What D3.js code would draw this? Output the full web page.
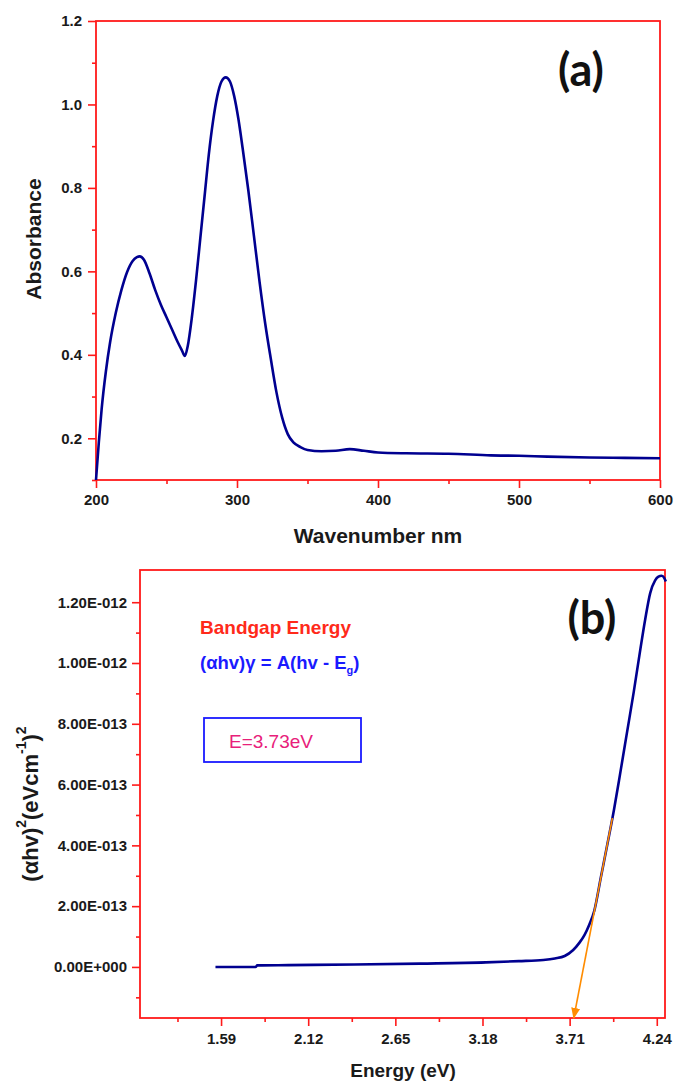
<!DOCTYPE html>
<html><head><meta charset="utf-8">
<script src="https://cdn.jsdelivr.net/npm/d3@7"></script>
<style>
html,body{margin:0;padding:0;background:#fff;}
svg{display:block;}
</style></head>
<body>
<svg id="chart" width="675" height="1083"></svg>
<script>
// ---- Panel (a) data ----
const wavelength = [200,202,204,207,210,214,218,222,226,229,231,234,238,242,246,250,254,258,261,263,265,268,271,274,277,280,283,286,289,292,295,298,301,304,308,312,316,320,324,328,332,336,340,345,350,360,370,380,390,400,420,450,480,500,520,550,575,600];
const absorbance = [0.10,0.19,0.27,0.36,0.43,0.50,0.555,0.598,0.625,0.634,0.636,0.628,0.595,0.555,0.52,0.49,0.46,0.43,0.41,0.397,0.42,0.49,0.58,0.68,0.78,0.88,0.96,1.02,1.055,1.065,1.055,1.02,0.965,0.895,0.795,0.685,0.575,0.475,0.39,0.31,0.25,0.21,0.19,0.179,0.172,0.169,0.17,0.174,0.17,0.166,0.164,0.163,0.159,0.158,0.156,0.154,0.153,0.152];
const aYTicks = [0.2,0.4,0.6,0.8,1.0,1.2];
const aYMinor = [0.1,0.3,0.5,0.7,0.9,1.1];
const aXTicks = [200,300,400,500,600];
const aXMinor = [250,350,450,550];

// ---- Panel (b) data ----
const energy = [1.556,1.80,1.81,2.0,2.4,2.8,3.2,3.4,3.55,3.62,3.68,3.73,3.77,3.80,3.83,3.86,3.90,3.94,3.98,4.02,4.06,4.10,4.14,4.17,4.20,4.23,4.25,4.27,4.285,4.295];
const tauc = [0,0.0,0.05e-13,0.06e-13,0.08e-13,0.11e-13,0.15e-13,0.19e-13,0.23e-13,0.28e-13,0.36e-13,0.55e-13,0.8e-13,1.05e-13,1.4e-13,1.85e-13,2.95e-13,4.05e-13,5.18e-13,6.45e-13,7.75e-13,9.05e-13,10.45e-13,11.45e-13,12.3e-13,12.72e-13,12.84e-13,12.87e-13,12.8e-13,12.68e-13];
const bYTicks = [0,2e-13,4e-13,6e-13,8e-13,10e-13,12e-13];
const bYTickLabels = ["0.00E+000","2.00E-013","4.00E-013","6.00E-013","8.00E-013","1.00E-012","1.20E-012"];
const bYMinor = [-1e-13,1e-13,3e-13,5e-13,7e-13,9e-13,11e-13];
const bXTicks = [1.59,2.12,2.65,3.18,3.71,4.24];
const bXMinor = [1.325,1.855,2.385,2.915,3.445,3.975];
const tangentStart = [3.97, 4.9e-13];
const tangentEnd = [3.735, -1.68e-13];

const svg = d3.select("#chart");
const RED = "#ff1a1a", NAVY = "#000090", LBL = "#1a1a1a";
const FONT = "'Liberation Sans', Arial, sans-serif";

function styleAxis(g){
  g.select(".domain").remove();
  g.selectAll(".tick line").attr("stroke", RED).attr("stroke-width", 1.6);
  g.selectAll(".tick text").attr("fill", LBL).attr("font-family", FONT)
    .attr("font-weight", "bold").attr("font-size", 15);
}

// ===== Panel (a) =====
const ax = d3.scaleLinear().domain([200,600]).range([96,660]);
const ay = d3.scaleLinear().domain([0.1,1.2]).range([480,21]);

svg.append("g").attr("transform","translate(96,0)")
  .call(d3.axisLeft(ay).tickValues(aYTicks).tickSize(8).tickPadding(6).tickFormat(d3.format(".1f")))
  .call(styleAxis);
svg.append("g").attr("transform","translate(96,0)")
  .call(d3.axisLeft(ay).tickValues(aYMinor).tickSize(4).tickFormat(""))
  .call(styleAxis);
svg.append("g").attr("transform","translate(0,480)")
  .call(d3.axisBottom(ax).tickValues(aXTicks).tickSize(8).tickPadding(6).tickFormat(d3.format("d")))
  .call(styleAxis);
svg.append("g").attr("transform","translate(0,480)")
  .call(d3.axisBottom(ax).tickValues(aXMinor).tickSize(4).tickFormat(""))
  .call(styleAxis);

svg.append("rect").attr("x",ax(200)).attr("y",ay(1.2))
  .attr("width",ax(600)-ax(200)).attr("height",ay(0.1)-ay(1.2))
  .attr("fill","none").attr("stroke",RED).attr("stroke-width",1.8);

svg.append("path").datum(wavelength.map((w,i)=>[w,absorbance[i]]))
  .attr("fill","none").attr("stroke",NAVY).attr("stroke-width",2.6)
  .attr("stroke-linejoin","round")
  .attr("d", d3.line().x(d=>ax(d[0])).y(d=>ay(d[1])).curve(d3.curveMonotoneX));

svg.append("text").attr("x",33).attr("y",239).attr("transform","rotate(-90,33,239)")
  .attr("text-anchor","middle").attr("dominant-baseline","central")
  .attr("font-family",FONT).attr("font-weight","bold").attr("font-size",21).attr("fill",LBL)
  .text("Absorbance");
svg.append("text").attr("x",378).attr("y",543).attr("text-anchor","middle")
  .attr("font-family",FONT).attr("font-weight","bold").attr("font-size",21).attr("fill",LBL)
  .text("Wavenumber nm");
svg.append("text").attr("x",581).attr("y",86).attr("text-anchor","middle")
  .attr("font-family","Lato, 'Open Sans', sans-serif").attr("font-weight","bold").attr("font-size",45).attr("fill","#111")
  .text("(a)");

// ===== Panel (b) =====
const bx = d3.scaleLinear().domain([1.097,4.29]).range([140,665]);
const by = d3.scaleLinear().domain([-1.68e-13,1.306e-12]).range([1018,570]);

svg.append("g").attr("transform","translate(140,0)")
  .call(d3.axisLeft(by).tickValues(bYTicks).tickSize(8).tickPadding(5).tickFormat((d,i)=>bYTickLabels[i]))
  .call(styleAxis);
svg.append("g").attr("transform","translate(140,0)")
  .call(d3.axisLeft(by).tickValues(bYMinor).tickSize(4).tickFormat(""))
  .call(styleAxis);
svg.append("g").attr("transform","translate(0,1018)")
  .call(d3.axisBottom(bx).tickValues(bXTicks).tickSize(8).tickPadding(7).tickFormat(d3.format(".2f")))
  .call(styleAxis);
svg.append("g").attr("transform","translate(0,1018)")
  .call(d3.axisBottom(bx).tickValues(bXMinor).tickSize(4).tickFormat(""))
  .call(styleAxis);

svg.append("rect").attr("x",140).attr("y",570).attr("width",525).attr("height",448)
  .attr("fill","none").attr("stroke",RED).attr("stroke-width",1.8);

svg.append("path").datum(energy.map((e,i)=>[e,tauc[i]]))
  .attr("fill","none").attr("stroke",NAVY).attr("stroke-width",2.6)
  .attr("stroke-linejoin","round")
  .attr("d", d3.line().x(d=>bx(d[0])).y(d=>by(d[1])).curve(d3.curveMonotoneX));

// tangent arrow
const defs = svg.append("defs");
defs.append("marker").attr("id","arr").attr("viewBox","0 0 10 10").attr("refX",9).attr("refY",5)
  .attr("markerWidth",7).attr("markerHeight",7).attr("orient","auto")
  .append("path").attr("d","M0,1 L10,5 L0,9 Z").attr("fill","#ff8c00");
svg.append("line").attr("x1",bx(tangentStart[0])).attr("y1",by(tangentStart[1]))
  .attr("x2",bx(tangentEnd[0])).attr("y2",by(tangentEnd[1]))
  .attr("stroke","#ff8c00").attr("stroke-width",1.6).attr("marker-end","url(#arr)");

svg.append("text").attr("x",200).attr("y",634)
  .attr("font-family",FONT).attr("font-weight","bold").attr("font-size",19).attr("fill","#ff2a1a")
  .text("Bandgap Energy");
const eq = svg.append("text").attr("x",200).attr("y",669)
  .attr("font-family",FONT).attr("font-weight","bold").attr("font-size",18.5).attr("fill","#1a1aff");
eq.append("tspan").text("(αhv)γ = A(hv - E");
eq.append("tspan").attr("font-size",11).attr("dy",5).text("g");
eq.append("tspan").attr("dy",-5).text(")");

svg.append("rect").attr("x",204).attr("y",718).attr("width",157).attr("height",44)
  .attr("fill","none").attr("stroke","#1a1aff").attr("stroke-width",1.8);
svg.append("text").attr("x",229).attr("y",748)
  .attr("font-family",FONT).attr("font-size",19).attr("fill","#e8207a")
  .text("E=3.73eV");

svg.append("text").attr("x",592).attr("y",634).attr("text-anchor","middle")
  .attr("font-family","Lato, 'Open Sans', sans-serif").attr("font-weight","bold").attr("font-size",45).attr("fill","#111")
  .text("(b)");

const yl = svg.append("text").attr("x",30).attr("y",804).attr("transform","rotate(-90,30,804)")
  .attr("text-anchor","middle").attr("dominant-baseline","central")
  .attr("font-family",FONT).attr("font-weight","bold").attr("font-size",22).attr("fill",LBL);
yl.append("tspan").text("(αhv)");
yl.append("tspan").attr("font-size",14).attr("dy",-9).text("2");
yl.append("tspan").attr("dy",9).text("(eVcm");
yl.append("tspan").attr("font-size",14).attr("dy",-9).text("-1");
yl.append("tspan").attr("dy",9).text(")");
yl.append("tspan").attr("font-size",14).attr("dy",-9).text("2");

svg.append("text").attr("x",403).attr("y",1077).attr("text-anchor","middle")
  .attr("font-family",FONT).attr("font-weight","bold").attr("font-size",19).attr("fill",LBL)
  .text("Energy (eV)");
</script>
</body></html>
